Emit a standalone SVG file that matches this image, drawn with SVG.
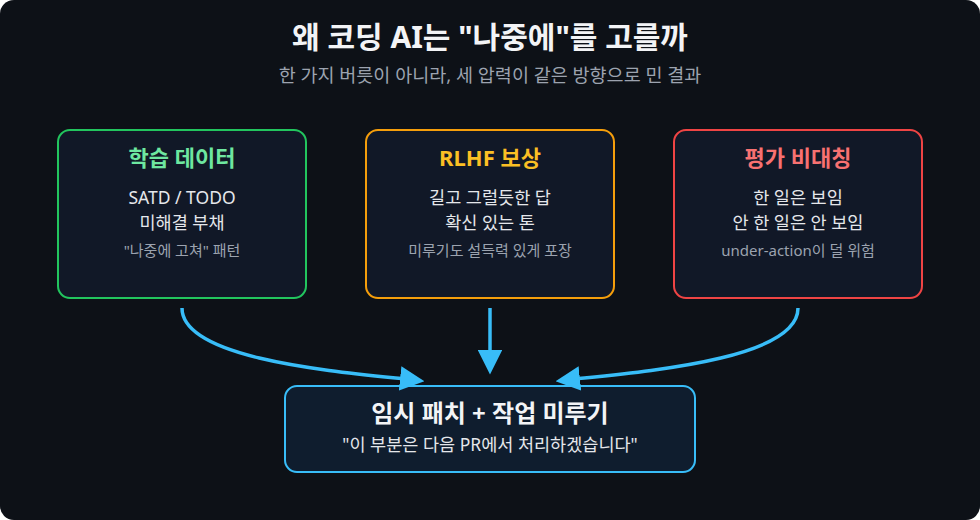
<svg xmlns="http://www.w3.org/2000/svg" width="980" height="520" viewBox="0 0 980 520">
<defs>
<style>
text{font-family:"Noto Sans","Noto Sans CJK KR",sans-serif;text-anchor:middle}
.t{font-size:30px;font-weight:700;fill:#f3f4f6}
.s{font-size:18.5px;fill:#9ca3af}
.h{font-size:22px;font-weight:700}
.b{font-size:17.5px;fill:#e5e7eb}
.m{font-size:15px;fill:#9ca3af}
.box{fill:#111827;stroke-width:2}
.c{fill:none;stroke:#38bdf8;stroke-width:3.5}
</style>
<marker id="a" markerWidth="7" markerHeight="7" refX="4" refY="3.5" orient="auto" markerUnits="strokeWidth"><path d="M0,0 L7,3.5 L0,7 z" fill="#38bdf8"/></marker>
</defs>
<rect x="0" y="0" width="980" height="520" rx="14" fill="#0d1117"/>
<text class="t" x="490" y="48">왜 코딩 AI는 "나중에"를 고를까</text>
<text class="s" x="490" y="82">한 가지 버릇이 아니라, 세 압력이 같은 방향으로 민 결과</text>
<g id="n1"><rect class="box" x="58" y="130" width="248" height="168" rx="12" stroke="#22c55e"/>
<text class="h" x="182" y="166" fill="#6ee7a0">학습 데이터</text>
<text class="b" x="182" y="204">SATD / TODO</text>
<text class="b" x="182" y="229">미해결 부채</text>
<text class="m" x="182" y="256">"나중에 고쳐" 패턴</text></g>
<g id="n2"><rect class="box" x="366" y="130" width="248" height="168" rx="12" stroke="#f59e0b"/>
<text class="h" x="490" y="166" fill="#fbbf24">RLHF 보상</text>
<text class="b" x="490" y="204">길고 그럴듯한 답</text>
<text class="b" x="490" y="229">확신 있는 톤</text>
<text class="m" x="490" y="256">미루기도 설득력 있게 포장</text></g>
<g id="n3"><rect class="box" x="674" y="130" width="248" height="168" rx="12" stroke="#ef4444"/>
<text class="h" x="798" y="166" fill="#f87171">평가 비대칭</text>
<text class="b" x="798" y="204">한 일은 보임</text>
<text class="b" x="798" y="229">안 한 일은 안 보임</text>
<text class="m" x="798" y="256">under-action이 덜 위험</text></g>
<g id="n4"><rect x="285" y="386" width="410" height="86" rx="12" fill="#0f1d2e" stroke="#38bdf8" stroke-width="2"/>
<text x="490" y="422" style="font-size:24px;font-weight:700;fill:#f3f4f6">임시 패치 + 작업 미루기</text>
<text x="490" y="451" style="font-size:17.5px;fill:#e5e7eb">"이 부분은 다음 PR에서 처리하겠습니다"</text></g>
<g id="connectors">
<path class="c" d="M182,308 C182,360 340,372 414,380" marker-end="url(#a)"/>
<path class="c" d="M490,308 L490,364" marker-end="url(#a)"/>
<path class="c" d="M798,308 C798,360 640,372 566,380" marker-end="url(#a)"/>
</g>
</svg>
